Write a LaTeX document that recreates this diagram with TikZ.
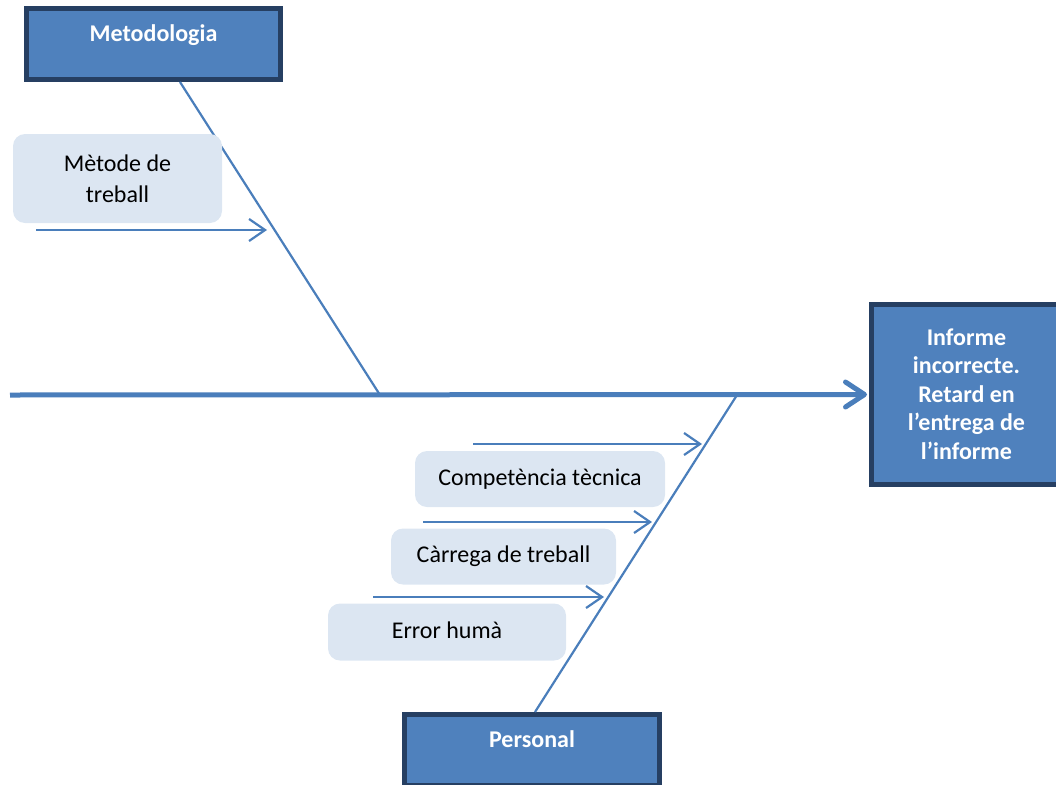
\documentclass[tikz,border=0pt]{standalone}
\usepackage{fontspec}
\setmainfont{Carlito}
\usetikzlibrary{arrows.meta}

\definecolor{boxfill}{HTML}{4F81BD}
\definecolor{boxedge}{HTML}{263F62}
\definecolor{bone}{HTML}{4A7EBB}
\definecolor{causefill}{HTML}{DCE6F2}

\tikzset{
  catbox/.style={draw=boxedge, line width=5pt, fill=boxfill, inner sep=0pt},
  headtext/.style={text=white, font=\fontsize{24}{29}\selectfont\bfseries, inner sep=0pt, anchor=base},
  effecttext/.style={text=white, align=center, inner sep=0pt,
    font=\fontsize{24}{28.5}\selectfont\bfseries},
  causebox/.style={fill=causefill, rounded corners=12pt, inner sep=0pt,
    font=\fontsize{24}{31}\selectfont, text height=17pt, text depth=5pt},
  spine/.style={draw=bone, line width=5pt,
    -{Straight Barb[length=19pt,width=25pt,round]}},
  bonestroke/.style={draw=bone, line width=2.2pt},
  causearrow/.style={draw=bone, line width=2.2pt,
    -{Straight Barb[length=16pt,width=22pt]}}
}

\begin{document}
\begin{tikzpicture}[x=1pt, y=-1pt]
  \useasboundingbox (0,0) rectangle (1056,784);

  % category boxes and the effect
  \node[catbox, minimum width=254pt, minimum height=71pt] (met) at (153.5,44) {};
  \node[headtext] (metT) at ([yshift=-35.5pt]met.north) {Metodologia};
  \node[catbox, minimum width=255pt, minimum height=71pt] (per) at (532,750) {};
  \node[headtext] (perT) at ([yshift=-35.5pt]per.north) {Personal};
  \node[catbox, minimum width=220pt, minimum height=180pt] (eff) at (981.5,394.5) {};
  \node[effecttext] (effT) at (966.5,394)
    {Informe\\incorrecte.\\Retard en\\l’entrega de\\l’informe};

  % spine
  \coordinate (tail) at (10,395);
  \draw[spine, shorten >=2pt] (tail) -- (eff.west);

  % bones
  \coordinate (j1) at (380,395);
  \coordinate (j2) at (737,395);
  \draw[bonestroke] ([xshift=26.5pt]met.south) -- (j1);
  \draw[bonestroke] (j2) -- ([xshift=3pt]per.north);

  % causes
  \node[causebox, minimum width=209pt, minimum height=89pt, align=center,
        text height=, text depth=] (c1) at (117.5,178.5) {Mètode de\\treball};
  \node[causebox, minimum width=250pt, minimum height=56pt] (c2) at (540,479) {Competència tècnica};
  \node[causebox, minimum width=225pt, minimum height=56pt] (c3) at (503.5,556.5) {Càrrega de treball};
  \node[causebox, minimum width=238pt, minimum height=57pt] (c4) at (447,632) {Error humà};

  % cause arrows
  \coordinate (a1s) at (36,230);  \coordinate (a1e) at (267,230);
  \coordinate (a2s) at (473,444); \coordinate (a2e) at (702,444);
  \coordinate (a3s) at (423,522); \coordinate (a3e) at (652,522);
  \coordinate (a4s) at (373,597); \coordinate (a4e) at (604,597);
  \draw[causearrow] (a1s) -- (a1e);
  \draw[causearrow] (a2s) -- (a2e);
  \draw[causearrow] (a3s) -- (a3e);
  \draw[causearrow] (a4s) -- (a4e);
\end{tikzpicture}
\end{document}
